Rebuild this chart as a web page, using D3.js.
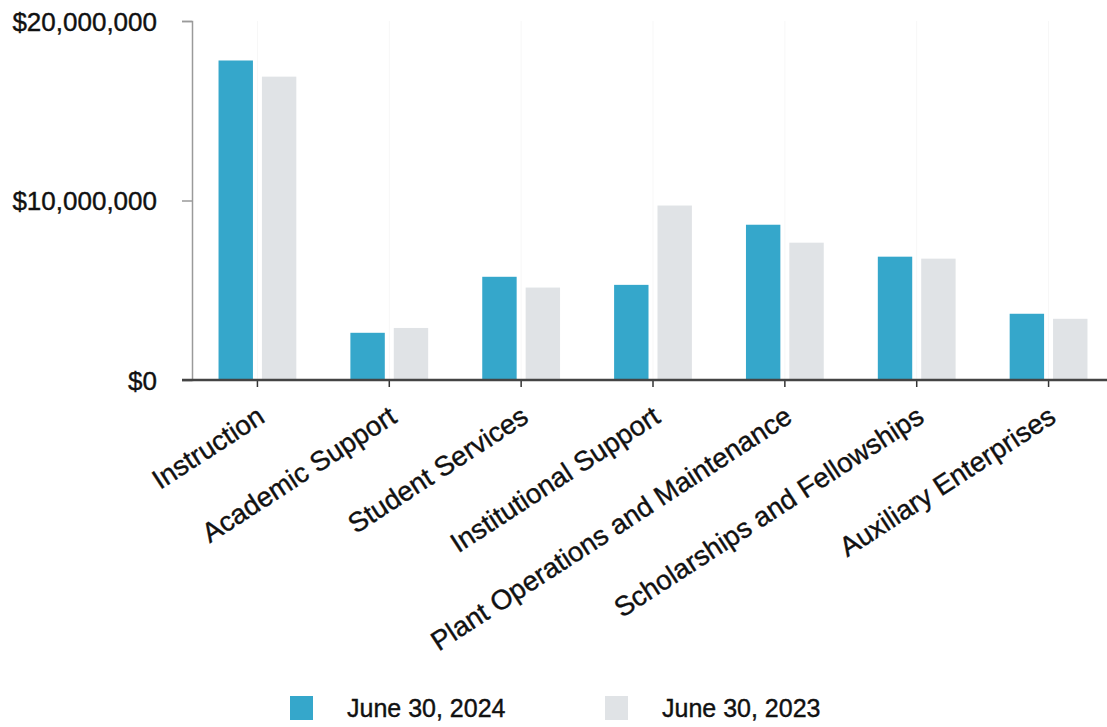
<!DOCTYPE html>
<html>
<head>
<meta charset="utf-8">
<script src="https://cdn.jsdelivr.net/npm/d3@7"></script>
<style>
  html, body { margin: 0; padding: 0; background: #fff; }
  svg { display: block; font-family: "Liberation Sans", Arial, sans-serif; }
</style>
</head>
<body>
<svg id="chart" width="1107" height="727"></svg>
<script>
const categories = ["Instruction", "Academic Support", "Student Services", "Institutional Support",
  "Plant Operations and Maintenance", "Scholarships and Fellowships", "Auxiliary Enterprises"];
const seriesNames = ["June 30, 2024", "June 30, 2023"];
const values2024 = [17800000, 2630000, 5750000, 5300000, 8650000, 6870000, 3690000];
const values2023 = [16900000, 2900000, 5150000, 9720000, 7650000, 6760000, 3410000];
const colors = ["#35a7cb", "#e0e3e6"];
const yTicks = [0, 10000000, 20000000];

const svg = d3.select("#chart");
const y = d3.scaleLinear().domain([0, 20000000]).range([380, 21]);
const x = d3.scaleBand().domain(categories).range([191.5, 1114.5]).paddingInner(0.41).paddingOuter(0.205);
const xs = d3.scaleBand().domain(seriesNames).range([0, x.bandwidth()]).paddingInner(0.207);

const data = categories.map((c, i) => ({ cat: c, vals: [values2024[i], values2023[i]] }));

// faint vertical gridlines
svg.append("g").selectAll("line").data(categories).join("line")
  .attr("x1", d => x(d) + x.bandwidth() / 2).attr("x2", d => x(d) + x.bandwidth() / 2)
  .attr("y1", y(20000000)).attr("y2", y(0))
  .attr("stroke", "#f7f7f7").attr("stroke-width", 1);

// bars
const groups = svg.append("g").selectAll("g").data(data).join("g")
  .attr("transform", d => `translate(${x(d.cat)},0)`);
groups.selectAll("rect").data(d => d.vals.map((v, j) => ({ s: seriesNames[j], v, j })))
  .join("rect")
  .attr("x", d => xs(d.s))
  .attr("width", xs.bandwidth())
  .attr("y", d => y(d.v))
  .attr("height", d => y(0) - y(d.v))
  .attr("fill", d => colors[d.j]);

// y axis
const yAxis = d3.axisLeft(y).tickValues(yTicks).tickSize(10).tickPadding(25)
  .tickFormat(d => "$" + d3.format(",")(d));
const gy = svg.append("g").attr("transform", "translate(192,0)").call(yAxis);
gy.select(".domain").attr("stroke", "#9a9a9a").attr("stroke-width", 1.5);
gy.selectAll(".tick line").attr("stroke", "#9a9a9a").attr("stroke-width", 1.5);
gy.selectAll(".tick text").attr("font-size", 26).attr("fill", "#111")
  .attr("stroke", "#111").attr("stroke-width", 0.4)
  .attr("font-family", "'Liberation Sans', Arial, sans-serif").attr("dy", "0.35em");

// x axis
const xAxis = d3.axisBottom(x).tickSize(7).tickSizeOuter(0);
const gx = svg.append("g").attr("transform", `translate(0,${y(0)})`).call(xAxis);
gx.select(".domain").remove();
gx.append("line").attr("x1", 182).attr("x2", 1107).attr("y1", 0).attr("y2", 0)
  .attr("stroke", "#444").attr("stroke-width", 2.5);
gx.selectAll(".tick line").attr("stroke", "#333").attr("stroke-width", 1.5);
gx.selectAll(".tick text")
  .attr("font-size", 27.5).attr("fill", "#111")
  .attr("stroke", "#111").attr("stroke-width", 0.4)
  .attr("font-family", "'Liberation Sans', Arial, sans-serif")
  .attr("text-anchor", "end")
  .attr("dy", 0).attr("y", 0)
  .attr("transform", "translate(9,41) rotate(-33)");

// legend
const legend = svg.append("g");
const legendX = [290, 605];
seriesNames.forEach((s, i) => {
  legend.append("rect").attr("x", legendX[i]).attr("y", 696).attr("width", 23).attr("height", 24)
    .attr("fill", colors[i]);
  legend.append("text").attr("x", legendX[i] + 57).attr("y", 717)
    .attr("font-size", 25).attr("fill", "#111")
    .attr("stroke", "#111").attr("stroke-width", 0.4).text(s);
});
</script>
</body>
</html>
